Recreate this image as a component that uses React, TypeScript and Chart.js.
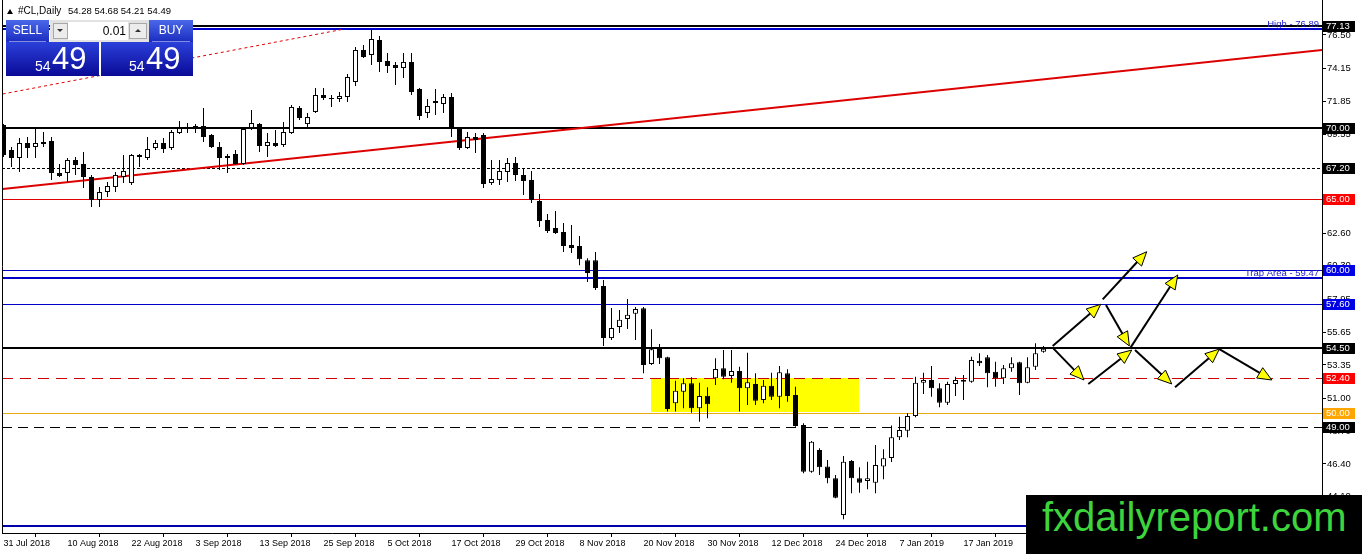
import React, { useEffect, useRef } from "react";
import { Chart, registerables } from "chart.js";

Chart.register(...registerables);

const FONT = '"Liberation Sans", Arial, sans-serif';

// ---- daily OHLC of #CL (bar index 0 = 31 Jul 2018) ----
const opens = [
  70.18, 68.43, 67.87, 68.92, 68.64, 68.85, 69.06, 66.82, 66.82, 67.73,
  67.45, 66.54, 64.92, 65.48, 65.83, 66.54, 66.11, 68.08, 67.87, 68.57,
  68.92, 68.57, 69.62, 70.04, 70.11, 70.11, 69.48, 68.64, 68.01, 68.15,
  67.45, 69.97, 70.25, 68.71, 68.92, 68.78, 69.62, 71.38, 70.25, 71.1,
  72.29, 72.08, 72.01, 72.15, 73.2, 75.45, 75.1, 76.15, 74.68, 74.39,
  74.18, 74.61, 72.71, 71.03, 71.87, 71.66, 72.15, 69.97, 68.57, 69.34,
  69.48, 66.11, 66.32, 66.89, 67.52, 66.68, 66.32, 64.85, 63.52, 62.96,
  62.68, 61.76, 61.69, 60.7, 60.7, 58.89, 55.23, 56.01, 56.57, 56.93,
  57.32, 53.41, 54.58, 53.88, 50.65, 51.47, 52.06, 50.3, 51.19, 52.41,
  53.11, 52.57, 52.92, 51.71, 52.01, 50.89, 51.89, 51.12, 52.76, 51.24,
  49.13, 45.85, 47.38, 46.21, 45.39, 42.82, 46.61, 45.39, 45.2, 45.08,
  46.21, 46.82, 48.27, 48.73, 49.76, 52.1, 52.29, 51.71, 50.7, 52.01,
  52.29, 52.17, 53.64, 53.88, 52.87, 52.41, 53.11, 53.53, 52.1, 53.22,
  54.28,
];
const highs = [
  70.25, 68.64, 69.27, 69.34, 69.97, 69.69, 69.34, 67.45, 67.87, 67.94,
  68.29, 66.68, 65.83, 66.18, 66.89, 68.08, 68.15, 68.15, 69.34, 69.13,
  69.27, 69.83, 70.46, 70.32, 70.25, 71.38, 69.55, 68.99, 68.15, 68.43,
  69.97, 71.24, 70.32, 69.62, 69.83, 70.39, 71.59, 71.52, 71.03, 72.78,
  72.78, 72.29, 72.5, 73.76, 75.66, 75.8, 76.85, 76.43, 75.24, 74.61,
  75.24, 75.24, 72.78, 72.01, 72.71, 72.36, 72.43, 70.04, 69.69, 69.62,
  69.62, 67.73, 67.73, 67.87, 67.94, 67.17, 66.96, 65.34, 63.94, 64.15,
  63.31, 63.17, 62.4, 60.84, 61.27, 59.31, 57.34, 57.2, 57.97, 57.41,
  57.41, 55.85, 54.82, 53.92, 52.24, 52.41, 52.48, 52.1, 51.78, 53.81,
  54.4, 54.4, 53.22, 54.21, 52.76, 52.29, 52.8, 53.27, 53.04, 51.82,
  49.25, 48.01, 47.5, 46.68, 45.62, 46.96, 46.68, 46.16, 46.56, 47.73,
  47.43, 49.1, 49.71, 49.95, 52.52, 52.8, 53.27, 52.06, 52.17, 52.52,
  52.64, 53.92, 54.16, 54.04, 53.57, 53.34, 53.88, 53.57, 53.88, 54.86,
  54.68,
];
const lows = [
  67.94, 67.24, 66.89, 67.87, 67.87, 68.64, 66.32, 66.54, 66.18, 66.68,
  65.76, 64.43, 64.43, 65.13, 65.48, 66.11, 65.97, 67.24, 67.73, 68.43,
  68.22, 68.43, 69.55, 69.62, 69.62, 68.99, 68.57, 67.03, 66.82, 67.38,
  67.38, 69.83, 68.29, 67.94, 68.64, 68.64, 69.55, 70.53, 69.97, 71.03,
  71.94, 71.45, 71.8, 71.8, 72.92, 74.89, 74.39, 73.9, 73.83, 72.99,
  73.48, 72.29, 70.53, 70.67, 70.88, 71.03, 69.34, 68.43, 68.5, 68.22,
  65.76, 65.97, 65.97, 66.18, 66.25, 65.27, 64.71, 63.03, 62.6, 62.54,
  61.27, 61.2, 60.35, 59.17, 58.6, 54.68, 55.1, 55.59, 55.87, 55.1,
  52.76, 53.34, 53.41, 50.07, 50.07, 50.3, 49.99, 49.36, 49.6, 51.94,
  52.34, 52.1, 50.07, 50.54, 50.54, 50.65, 50.89, 50.3, 50.77, 49.01,
  45.74, 45.78, 45.62, 45.04, 43.99, 42.51, 44.34, 44.38, 44.62, 44.34,
  45.32, 46.54, 48.08, 48.27, 49.67, 51.31, 51.12, 50.37, 50.53, 51.17,
  50.89, 52.1, 53.27, 51.78, 51.82, 52.01, 52.87, 51.24, 52.06, 52.99,
  54.21,
];
const closes = [
  68.08, 67.87, 68.92, 68.57, 68.92, 68.99, 66.82, 66.61, 67.73, 67.38,
  66.54, 64.92, 65.48, 65.9, 66.68, 66.96, 68.08, 67.94, 68.5, 68.92,
  68.5, 69.69, 69.97, 69.9, 69.97, 69.34, 68.64, 67.87, 67.87, 67.45,
  69.9, 70.32, 68.71, 68.99, 68.71, 69.69, 71.45, 70.67, 70.74, 72.29,
  72.08, 72.01, 72.22, 73.55, 75.45, 74.96, 76.22, 74.61, 74.32, 74.18,
  74.61, 72.5, 70.81, 71.52, 71.73, 72.15, 70.04, 68.57, 69.34, 69.13,
  66.04, 66.39, 66.96, 67.52, 66.68, 66.25, 64.92, 63.45, 62.75, 62.6,
  61.69, 61.55, 60.77, 59.8, 58.75, 55.23, 55.94, 56.51, 56.86, 57.27,
  53.34, 54.44, 53.81, 50.25, 51.54, 52.06, 50.3, 51.17, 50.58, 53.06,
  52.52, 52.92, 51.71, 52.13, 50.84, 51.89, 51.12, 52.83, 51.17, 49.06,
  45.85, 47.96, 46.16, 45.39, 44.03, 46.56, 45.39, 45.08, 45.39, 46.33,
  46.79, 48.27, 48.78, 49.76, 52.1, 52.29, 51.71, 50.7, 52.01, 52.29,
  52.17, 53.69, 53.46, 52.76, 52.41, 53.11, 53.46, 52.06, 53.18, 54.16,
  54.49,
];

// ---- axis ticks ----
const dateTickIndex = [0, 8, 16, 24, 32, 40, 48, 56, 64, 72, 80, 88, 96, 104, 112, 120];
const dateTickLabels = [
  "31 Jul 2018", "10 Aug 2018", "22 Aug 2018", "3 Sep 2018", "13 Sep 2018",
  "25 Sep 2018", "5 Oct 2018", "17 Oct 2018", "29 Oct 2018", "8 Nov 2018",
  "20 Nov 2018", "30 Nov 2018", "12 Dec 2018", "24 Dec 2018", "7 Jan 2019",
  "17 Jan 2019",
];
const priceTicks = [76.5, 74.15, 71.85, 69.55, 67.25, 64.9, 62.6, 60.3, 57.95, 55.65, 53.35, 51.0, 48.7, 46.4, 44.1];

// visible window (bar index / price)
const X_RANGE = [-0.1875, 164.8125];
const Y_RANGE = [41.552, 78.956];

// ---- drawn objects (in bar index / price) ----
const levelPrices = [77.13, 76.89, 70.0, 67.2, 65.0, 60.0, 59.47, 57.6, 54.5, 52.4, 50.0, 49.0, 42.07];
const levelStyles = [
  { color: "#000000", width: 2, dash: [], box: "#000000" },
  { color: "#0000cd", width: 2, dash: [], box: "" },
  { color: "#000000", width: 2, dash: [], box: "#000000" },
  { color: "#000000", width: 1, dash: [3, 2], box: "#000000" },
  { color: "#e00000", width: 1, dash: [], box: "#ff0000" },
  { color: "#0000c8", width: 1, dash: [], box: "#0000e6" },
  { color: "#0000c8", width: 2, dash: [], box: "" },
  { color: "#0000c8", width: 1, dash: [], box: "#0000e6" },
  { color: "#000000", width: 2, dash: [], box: "#000000" },
  { color: "#cc0000", width: 1, dash: [11, 7], box: "#ff0000" },
  { color: "#e8a810", width: 1, dash: [], box: "#ffa500" },
  { color: "#000000", width: 1, dash: [10, 6], box: "#000000" },
  { color: "#0000aa", width: 2, dash: [], box: "" },
];
const levelNotePrices = [76.89, 59.47];
const levelNoteTexts = ["High - 76.89", "Trap Area - 59.47"];

const trendMain = [[-0.1, 65.69], [164.9, 75.45]];
const trendDotted = [[-0.1, 72.36], [42.44, 76.9]];
const zoneBox = [80.94, 106.98, 50.0, 52.4];

const arrowSegments = [
  [131.15, 54.68, 137.15, 57.6],
  [137.4, 57.95, 142.9, 61.29],
  [137.81, 57.55, 140.73, 54.68],
  [140.9, 54.58, 146.78, 59.66],
  [131.23, 54.51, 135.06, 52.29],
  [135.6, 52.01, 141.03, 54.39],
  [141.44, 54.39, 146.03, 52.01],
  [146.44, 51.78, 151.98, 54.46],
  [151.98, 54.46, 158.53, 52.29],
];

const mt4Plugin = {
  id: "mt4Objects",
  beforeDatasetsDraw(chart: any) {
    const { ctx, chartArea: a, scales } = chart;
    const x = scales.x, y = scales.y;
    ctx.save();
    ctx.beginPath();
    ctx.rect(a.left, a.top, a.right - a.left, a.bottom - a.top);
    ctx.clip();
    // yellow zone
    const zx1 = x.getPixelForValue(zoneBox[0]);
    const zx2 = x.getPixelForValue(zoneBox[1]);
    const zy1 = y.getPixelForValue(zoneBox[3]);
    const zy2 = y.getPixelForValue(zoneBox[2]);
    ctx.fillStyle = "#ffff00";
    ctx.fillRect(Math.round(zx1), Math.round(zy1), Math.round(zx2 - zx1), Math.round(zy2 - zy1));
    // horizontal levels
    levelPrices.forEach((p, k) => {
      const s = levelStyles[k];
      const py = y.getPixelForValue(p);
      const yy = s.width === 1 ? Math.round(py) + 0.5 : Math.round(py);
      ctx.strokeStyle = s.color;
      ctx.lineWidth = s.width;
      ctx.setLineDash(s.dash);
      ctx.beginPath();
      ctx.moveTo(a.left, yy);
      ctx.lineTo(a.right, yy);
      ctx.stroke();
    });
    // trend lines
    const drawLine = (pts: number[][], color: string, w: number, dash: number[]) => {
      ctx.strokeStyle = color;
      ctx.lineWidth = w;
      ctx.setLineDash(dash);
      ctx.beginPath();
      ctx.moveTo(x.getPixelForValue(pts[0][0]), y.getPixelForValue(pts[0][1]));
      ctx.lineTo(x.getPixelForValue(pts[1][0]), y.getPixelForValue(pts[1][1]));
      ctx.stroke();
    };
    drawLine(trendDotted, "#e00000", 1, [3, 3]);
    drawLine(trendMain, "#dd0000", 2, []);
    ctx.restore();
  },
  afterDatasetsDraw(chart: any) {
    const { ctx, scales } = chart;
    const x = scales.x, y = scales.y;
    ctx.save();
    ctx.setLineDash([]);
    arrowSegments.forEach((s) => {
      const x1 = x.getPixelForValue(s[0]), y1 = y.getPixelForValue(s[1]);
      const x2 = x.getPixelForValue(s[2]), y2 = y.getPixelForValue(s[3]);
      const dx = x2 - x1, dy = y2 - y1;
      const len = Math.hypot(dx, dy);
      const ux = dx / len, uy = dy / len;
      const nx = -uy, ny = ux;
      const hl = 14, hw = 6;
      const bx = x2 - ux * hl, by = y2 - uy * hl;
      ctx.strokeStyle = "#000";
      ctx.lineWidth = 2;
      ctx.beginPath();
      ctx.moveTo(x1, y1);
      ctx.lineTo(bx + ux * 2, by + uy * 2);
      ctx.stroke();
      ctx.beginPath();
      ctx.moveTo(x2, y2);
      ctx.lineTo(bx + nx * hw, by + ny * hw);
      ctx.lineTo(bx - nx * hw, by - ny * hw);
      ctx.closePath();
      ctx.fillStyle = "#ffff00";
      ctx.fill();
      ctx.lineWidth = 1;
      ctx.strokeStyle = "#000";
      ctx.stroke();
    });
    ctx.restore();
  },
  afterDraw(chart: any) {
    const { ctx, chartArea: a, scales } = chart;
    const y = scales.y;
    ctx.save();
    ctx.strokeStyle = "#000";
    ctx.lineWidth = 1;
    ctx.setLineDash([]);
    ctx.beginPath();
    ctx.moveTo(a.left + 0.5, a.top);
    ctx.lineTo(a.left + 0.5, a.bottom);
    ctx.stroke();
    ctx.font = `9.5px ${FONT}`;
    ctx.textAlign = "right";
    ctx.textBaseline = "alphabetic";
    ctx.fillStyle = "#1c1cc8";
    levelNotePrices.forEach((p, k) => {
      ctx.fillText(levelNoteTexts[k], a.right - 3, Math.round(y.getPixelForValue(p)) - 2);
    });
    ctx.textAlign = "left";
    ctx.textBaseline = "middle";
    levelPrices.forEach((p, k) => {
      const s = levelStyles[k];
      if (!s.box) return;
      const py = Math.round(y.getPixelForValue(p));
      ctx.fillStyle = s.box;
      ctx.fillRect(a.right + 1, py - 5, 32, 11);
      ctx.fillStyle = "#ffffff";
      ctx.fillText(p.toFixed(2), a.right + 4, py + 0.5);
    });
    ctx.restore();
  },
};

const btnGrad = "linear-gradient(#4a68e8, #1b2cc0)";
const bigGrad = "linear-gradient(#2b40da, #0a0a96)";

function Tri({ up, left, top }: { up: boolean; left: number; top: number }) {
  return (
    <div
      style={{
        position: "absolute",
        left,
        top,
        width: 0,
        height: 0,
        borderLeft: "3px solid transparent",
        borderRight: "3px solid transparent",
        ...(up ? { borderBottom: "3px solid #333" } : { borderTop: "3px solid #333" }),
      }}
    />
  );
}

export default function App() {
  const ref = useRef<HTMLCanvasElement>(null);

  useEffect(() => {
    document.body.style.margin = "0";
    const bodyColors = opens.map((o, i) => (closes[i] >= o ? "#ffffff" : "#000000"));
    const chart = new Chart(ref.current as HTMLCanvasElement, {
      type: "bar",
      data: {
        datasets: [
          {
            label: "body",
            data: opens.map((o, i) => ({ x: i, y: [o, closes[i]] })) as any,
            backgroundColor: bodyColors,
            borderColor: "#000000",
            borderWidth: 1,
            borderSkipped: false,
            barThickness: 5,
            grouped: false,
            inflateAmount: 0,
            minBarLength: 1,
          } as any,
          {
            label: "wick",
            data: lows.map((l, i) => ({ x: i, y: [l, highs[i]] })) as any,
            backgroundColor: "#000000",
            borderWidth: 0,
            barThickness: 1,
            grouped: false,
            inflateAmount: 0,
          } as any,
        ],
      },
      options: {
        responsive: false,
        animation: false,
        events: [],
        layout: { padding: { left: 2, right: 0, top: 0, bottom: 0 } },
        plugins: {
          legend: { display: false },
          tooltip: { enabled: false },
          title: { display: false },
        },
        scales: {
          x: {
            type: "linear",
            position: "bottom",
            min: X_RANGE[0],
            max: X_RANGE[1],
            offset: false,
            grid: { drawOnChartArea: false, drawTicks: true, tickLength: 4, color: "#000" },
            border: { display: true, color: "#000", width: 1 },
            ticks: {
              autoSkip: false,
              maxRotation: 0,
              minRotation: 0,
              align: "start",
              padding: 1,
              color: "#000",
              font: { family: FONT, size: 9 },
              callback: (v: any) => {
                const k = dateTickIndex.indexOf(Number(v));
                return k >= 0 ? dateTickLabels[k] : "";
              },
            },
            afterBuildTicks: (s: any) => {
              s.ticks = dateTickIndex.map((v) => ({ value: v }));
            },
            afterFit: (s: any) => {
              s.height = 21;
              s.paddingLeft = 0;
              s.paddingRight = 0;
              s.paddingTop = 0;
              s.paddingBottom = 0;
            },
          } as any,
          y: {
            type: "linear",
            position: "right",
            min: Y_RANGE[0],
            max: Y_RANGE[1],
            grid: { drawOnChartArea: false, drawTicks: true, tickLength: 4, color: "#000" },
            border: { display: true, color: "#000", width: 1 },
            ticks: {
              autoSkip: false,
              padding: 1,
              color: "#000",
              font: { family: FONT, size: 9.5 },
              callback: (v: any) => Number(v).toFixed(2),
            },
            afterBuildTicks: (s: any) => {
              s.ticks = priceTicks.map((v) => ({ value: v }));
            },
            afterFit: (s: any) => {
              s.width = 40;
              s.paddingTop = 0;
              s.paddingBottom = 0;
              s.paddingLeft = 0;
              s.paddingRight = 0;
            },
          } as any,
        },
      },
      plugins: [mt4Plugin],
    });
    return () => chart.destroy();
  }, []);

  const white = "#ffffff";
  return (
    <div
      style={{
        position: "fixed",
        left: 0,
        top: 0,
        width: 1362,
        height: 554,
        overflow: "hidden",
        background: "#fff",
        fontFamily: FONT,
      }}
    >
      <canvas
        ref={ref}
        width={1362}
        height={554}
        style={{ position: "absolute", left: 0, top: 0, width: 1362, height: 554 }}
      />
      {/* title */}
      <div
        style={{
          position: "absolute",
          left: 7,
          top: 9,
          width: 0,
          height: 0,
          borderLeft: "3px solid transparent",
          borderRight: "3px solid transparent",
          borderBottom: "5px solid #000",
        }}
      />
      <div style={{ position: "absolute", left: 18, top: 5, fontSize: 10, lineHeight: "12px", color: "#000" }}>
        #CL,Daily
      </div>
      <div style={{ position: "absolute", left: 68, top: 5, fontSize: 9.5, lineHeight: "12px", color: "#000" }}>
        54.28 54.68 54.21 54.49
      </div>
      {/* one-click trading panel */}
      <div style={{ position: "absolute", left: 6, top: 20, width: 43, height: 22, background: btnGrad }}>
        <div style={{ color: white, fontSize: 12, lineHeight: "21px", textAlign: "center" }}>SELL</div>
        <div style={{ position: "absolute", left: 3, right: 3, bottom: 0, height: 1, background: "rgba(255,255,255,0.45)" }} />
      </div>
      <div style={{ position: "absolute", left: 50, top: 20, width: 99, height: 22, background: "#e2e2e2" }}>
        <div
          style={{
            position: "absolute",
            left: 3,
            top: 3,
            width: 13,
            height: 14,
            background: "#ececec",
            border: "1px solid #a8a8a8",
          }}
        />
        <Tri up={false} left={7} top={9} />
        <div
          style={{
            position: "absolute",
            left: 18,
            top: 2,
            width: 60,
            height: 18,
            background: "#fff",
            fontSize: 12,
            lineHeight: "18px",
            textAlign: "right",
            color: "#000",
            paddingRight: 2,
            boxSizing: "border-box",
          }}
        >
          0.01
        </div>
        <div
          style={{
            position: "absolute",
            left: 79,
            top: 3,
            width: 16,
            height: 14,
            background: "#ececec",
            border: "1px solid #a8a8a8",
          }}
        />
        <Tri up={true} left={85} top={9} />
      </div>
      <div style={{ position: "absolute", left: 149, top: 20, width: 44, height: 22, background: btnGrad }}>
        <div style={{ color: white, fontSize: 12, lineHeight: "21px", textAlign: "center" }}>BUY</div>
        <div style={{ position: "absolute", left: 3, right: 3, bottom: 0, height: 1, background: "rgba(255,255,255,0.45)" }} />
      </div>
      <div style={{ position: "absolute", left: 6, top: 42, width: 93, height: 34, background: bigGrad }}>
        <span style={{ position: "absolute", left: 29, top: 16, fontSize: 14, lineHeight: "16px", color: white }}>54</span>
        <span style={{ position: "absolute", left: 46, top: 1, fontSize: 31, lineHeight: "31px", color: white }}>49</span>
      </div>
      <div style={{ position: "absolute", left: 101, top: 42, width: 92, height: 34, background: bigGrad }}>
        <span style={{ position: "absolute", left: 28, top: 16, fontSize: 14, lineHeight: "16px", color: white }}>54</span>
        <span style={{ position: "absolute", left: 45, top: 1, fontSize: 31, lineHeight: "31px", color: white }}>49</span>
      </div>
      {/* watermark */}
      <div style={{ position: "absolute", left: 1026, top: 495, width: 336, height: 59, background: "#000" }}>
        <span style={{ position: "absolute", left: 16, top: 0, fontSize: 40, color: "#3dd43d", whiteSpace: "nowrap" }}>
          fxdailyreport.com
        </span>
      </div>
    </div>
  );
}
